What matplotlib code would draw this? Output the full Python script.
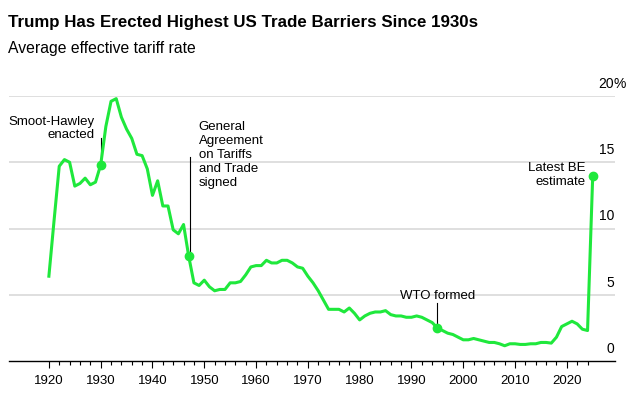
import matplotlib
matplotlib.use("Agg")
import matplotlib.pyplot as plt

# average effective tariff rate, %
years = list(range(1920, 2026))
rate = [6.4, 10.6, 14.7, 15.2, 15.0, 13.2, 13.4, 13.8, 13.3, 13.5,
        14.8, 17.7, 19.6, 19.8, 18.4, 17.5, 16.8, 15.6, 15.5, 14.5,
        12.5, 13.6, 11.7, 11.7, 9.9, 9.6, 10.3, 7.9, 5.9, 5.7,
        6.1, 5.6, 5.3, 5.4, 5.4, 5.9, 5.9, 6.0, 6.5, 7.1,
        7.2, 7.2, 7.6, 7.4, 7.4, 7.6, 7.6, 7.4, 7.1, 7.0,
        6.4, 5.9, 5.3, 4.6, 3.9, 3.9, 3.9, 3.7, 4.0, 3.6,
        3.1, 3.4, 3.6, 3.7, 3.7, 3.8, 3.5, 3.4, 3.4, 3.3,
        3.3, 3.4, 3.3, 3.1, 2.9, 2.5, 2.3, 2.1, 2.0, 1.8,
        1.6, 1.6, 1.7, 1.6, 1.5, 1.4, 1.4, 1.3, 1.15, 1.3,
        1.3, 1.25, 1.25, 1.3, 1.3, 1.4, 1.4, 1.35, 1.8, 2.6,
        2.8, 3.0, 2.8, 2.4, 2.3, 14.0]

event_years = [1930, 1947, 1995, 2025]
y_ticks = [0, 5, 10, 15, 20]

green = "#1fe83c"
plt.rcParams["font.family"] = ["Liberation Sans", "DejaVu Sans"]

fig = plt.figure(figsize=(6.33, 3.94), dpi=100)
ax = fig.add_axes([9 / 633, 33 / 394, 606 / 633, 265 / 394])

ax.plot(years, rate, color=green, lw=2.2, solid_joinstyle="round", clip_on=False, zorder=3)
ev_vals = [rate[years.index(y)] for y in event_years]
ax.plot(event_years, ev_vals, "o", color=green, ms=6, clip_on=False, zorder=4)

ax.set_xlim(1912.3, 2029.3)
ax.set_ylim(0, 20)

# gridlines + right-hand labels
for v in y_ticks[1:]:
    ax.axhline(v, color="#dcdcdc", lw=1.3, zorder=1)
for v in y_ticks:
    ax.annotate(str(v), xy=(1, v), xycoords=("axes fraction", "data"),
                xytext=(-1, 5), textcoords="offset pixels",
                ha="right", va="bottom", fontsize=10)
ax.annotate("%", xy=(1, 20), xycoords=("axes fraction", "data"),
            xytext=(-1, 5), textcoords="offset pixels",
            ha="left", va="bottom", fontsize=10)
ax.set_yticks([])

for s in ["left", "right", "top"]:
    ax.spines[s].set_visible(False)
ax.spines["bottom"].set_linewidth(1.0)
ax.set_xticks(range(1920, 2021, 10))
ax.set_xticks([y for y in range(1920, 2025, 2) if y % 10], minor=True)
ax.tick_params(axis="x", which="major", length=5, width=0.8, labelsize=9.5, pad=5)
ax.tick_params(axis="x", which="minor", length=3, width=0.8)

# annotations
lw = 0.8
ax.plot([1930, 1930], [14.8, 16.8], color="black", lw=lw, zorder=2)
ax.text(1928.9, 17.55, "Smoot-Hawley\nenacted", ha="right", va="center",
        fontsize=9.5, linespacing=1.2)
ax.plot([1947.2, 1947.2], [7.9, 15.4], color="black", lw=lw, zorder=2)
ax.text(1948.9, 15.55, "General\nAgreement\non Tariffs\nand Trade\nsigned", ha="left", va="center",
        fontsize=9.5, linespacing=1.2)
ax.plot([1995, 1995], [2.5, 4.4], color="black", lw=lw, zorder=2)
ax.text(1995.1, 4.45, "WTO formed", ha="center", va="bottom", fontsize=9.5)
ax.text(2023.7, 14.05, "Latest BE\nestimate", ha="right", va="center",
        fontsize=9.5, linespacing=1.2)

fig.text(8 / 633, 1 - 22 / 394, "Trump Has Erected Highest US Trade Barriers Since 1930s",
         fontsize=12.2, fontweight="bold", va="center", ha="left")
fig.text(8 / 633, 1 - 49 / 394, "Average effective tariff rate",
         fontsize=11.3, va="center", ha="left")

fig.savefig("out.png", dpi=100)
